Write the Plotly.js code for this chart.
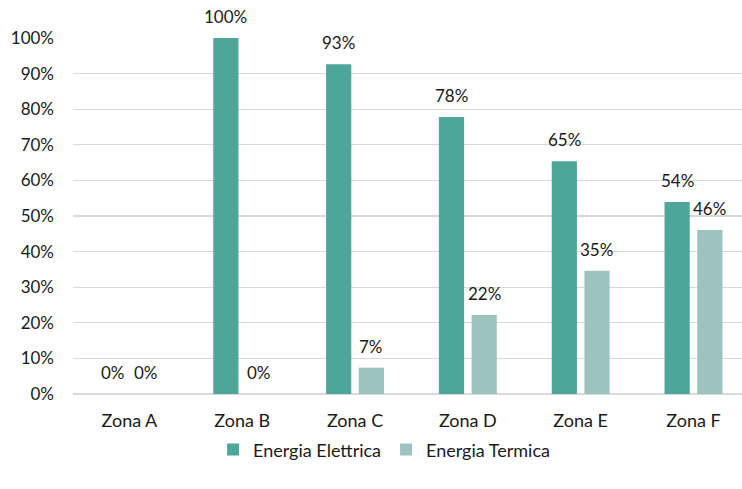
<!DOCTYPE html>
<html>
<head>
<meta charset="utf-8">
<script src="https://cdn.plot.ly/plotly-3.0.1.min.js"></script>
<style>html,body{margin:0;padding:0;background:#fff;}#chart{width:742px;height:489px;}</style>
</head>
<body>
<div id="chart"></div>
<script>
var categories = ["Zona A", "Zona B", "Zona C", "Zona D", "Zona E", "Zona F"];
var elettrica = [0, 100, 92.6, 77.8, 65.4, 53.9];
var termica = [0, 0, 7.4, 22.2, 34.6, 46.1];
var seriesNames = ["Energia Elettrica", "Energia Termica"];
var yTickVals = [0, 10, 20, 30, 40, 50, 60, 70, 80, 90, 100];
var yTickText = ["0%", "10%", "20%", "30%", "40%", "50%", "60%", "70%", "80%", "90%", "100%"];

function labels(arr) { return arr.map(function (v) { return Math.round(v) + "%"; }); }

var font = "Lato, 'Open Sans', sans-serif";
var colors = ["#4EA59A", "#9DC3BF"];
var traces = [
  {type: "bar", name: seriesNames[0], x: categories, y: elettrica,
   marker: {color: colors[0]}, hoverinfo: "none"},
  {type: "bar", name: seriesNames[1], x: categories, y: termica,
   marker: {color: colors[1]}, hoverinfo: "none"}
];

var annotations = [];
[elettrica, termica].forEach(function (series, si) {
  var txt = labels(series);
  categories.forEach(function (c, i) {
    annotations.push({
      x: c, y: series[i], xref: "x", yref: "y", text: txt[i], showarrow: false,
      xanchor: "center", yanchor: "bottom", xshift: si === 0 ? -16.3 : 16.3, yshift: 9,
      font: {family: font, size: 17, color: "#1a1a1a"}
    });
  });
});

var layout = {
  width: 742, height: 489,
  margin: {l: 73, r: 0, t: 38, b: 95},
  paper_bgcolor: "#fff", plot_bgcolor: "#fff",
  barmode: "group", bargap: 0.42, bargroupgap: 0.23,
  font: {family: font, size: 17, color: "#1a1a1a"},
  showlegend: true,
  legend: {orientation: "h", x: 0.465, xanchor: "center", y: -0.105, yanchor: "top",
           font: {family: font, size: 18, color: "#1a1a1a"}, itemwidth: 30},
  xaxis: {
    range: [-0.5, 5.43], fixedrange: true, showgrid: false, zeroline: false,
    showline: false, ticks: "", ticklabelstandoff: 14,
    tickfont: {family: font, size: 18, color: "#1a1a1a"}
  },
  yaxis: {
    range: [0, 100], fixedrange: true, tickvals: yTickVals, ticktext: yTickText,
    showgrid: true, gridcolor: "#D9D9D9", gridwidth: 1.3, zeroline: true, zerolinecolor: "#D9D9D9",
    zerolinewidth: 1.3, showline: false, ticks: "", ticklabelstandoff: 18,
    tickfont: {family: font, size: 17, color: "#1a1a1a"}
  },
  annotations: annotations
};

Plotly.newPlot("chart", traces, layout, {displayModeBar: false, staticPlot: true});
</script>
</body>
</html>
